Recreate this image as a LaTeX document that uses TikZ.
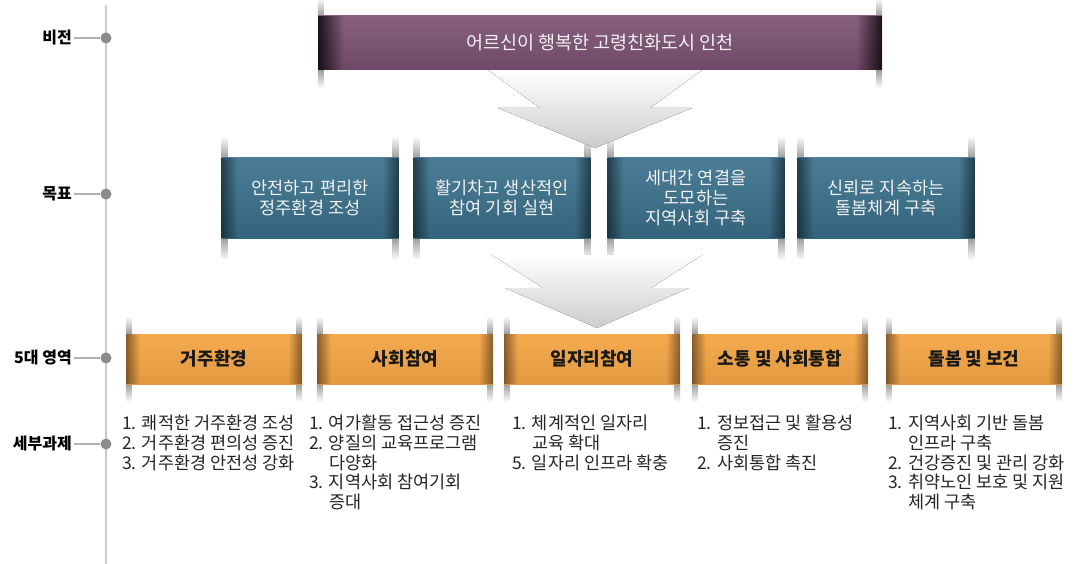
\documentclass[tikz,border=0pt]{standalone}
\usepackage{fontspec}
\setmainfont{Noto Sans CJK KR}
\usetikzlibrary{backgrounds,fadings}

\definecolor{visionpurple}{HTML}{7E5275}
\definecolor{goalblue}{HTML}{3B728D}
\definecolor{areaorange}{HTML}{F5A646}

\begin{document}
\begin{tikzpicture}[
  x=1pt, y=-1pt,
  spine/.style={draw=black!20, line width=2pt},
  tick/.style={draw=black!30, line width=1.3pt},
  leveldot/.style={circle, fill=black!45, inner sep=0pt, minimum size=11pt},
  levellabel/.style={anchor=east, inner sep=2pt, font=\bfseries\fontsize{16}{18}\selectfont},
  visionbar/.style={minimum width=564pt, minimum height=54pt, inner sep=0pt,
    top color=visionpurple!92!white, bottom color=visionpurple!88!black,
    text=white!94!black, font=\fontsize{18.5}{21}\selectfont},
  goalbox/.style={minimum width=177pt, minimum height=80pt, inner sep=0pt, align=center,
    top color=goalblue!92!white, bottom color=goalblue!88!black,
    text=white!95!black, font=\fontsize{17.5}{20}\selectfont},
  areabox/.style={minimum width=176pt, minimum height=50pt, inner sep=0pt,
    top color=areaorange!95!white, bottom color=areaorange!92!black,
    text=black!90, font=\bfseries\fontsize{18}{21}\selectfont},
  tasklist/.style={anchor=north west, align=left, inner sep=0pt,
    text=black!85, font=\fontsize{17.5}{19.7}\selectfont},
  flow/.style={top color=white, bottom color=black!20},
]

\useasboundingbox (0,0) rectangle (1081,564);

% Timeline on the left
\coordinate (spinetop) at (106,5);
\coordinate (spinebot) at (106,564);
\draw[spine] (spinetop) -- (spinebot);

\foreach \y/\name/\lab in {38/vision/비전, 194/goal/목표, 358/area/5대 영역, 444/task/세부과제} {
  \node[leveldot] (\name-dot) at (106,\y) {};
  \node[levellabel] (\name-lab) at (74,\y) {\lab};
  \draw[tick] (\name-lab.east) -- (\name-dot.west);
}

% Big grey flow arrows
\fill[flow] (488,70) -- (702,70) -- (650,108) -- (692,108) -- (595,148)
  -- (498,108) -- (540,108) -- cycle;
\fill[flow] (492,255) -- (702,255) -- (651,288) -- (689,288) -- (597,328)
  -- (505,288) -- (543,288) -- cycle;

% Vision
\node[visionbar] (vision) at (600,43) {어르신이 행복한 고령친화도시 인천};

% Goals
\node[goalbox] (goal1) at (310,198) {안전하고 편리한\\정주환경 조성};
\node[goalbox] (goal2) at (502,198) {활기차고 생산적인\\참여 기회 실현};
\node[goalbox] (goal3) at (696,198) {세대간 연결을\\도모하는\\지역사회 구축};
\node[goalbox] (goal4) at (886,198) {신뢰로 지속하는\\돌봄체계 구축};

% Five areas
\node[areabox] (area1) at (214,359) {거주환경};
\node[areabox] (area2) at (405,359) {사회참여};
\node[areabox] (area3) at (592,359) {일자리참여};
\node[areabox] (area4) at (780,359) {소통 및 사회통합};
\node[areabox] (area5) at (974,359) {돌봄 및 보건};

% Darker box ends
\foreach \b/\w/\o in {vision/26/0.8, goal1/16/0.5, goal2/16/0.5, goal3/16/0.5, goal4/16/0.5,
  area1/14/0.45, area2/14/0.45, area3/14/0.45, area4/14/0.45, area5/14/0.45} {
  \fill[black, opacity=\o, path fading=east] (\b.north west) rectangle ([xshift=\w pt]\b.south west);
  \fill[black, opacity=\o, path fading=west] ([xshift=-\w pt]\b.north east) rectangle (\b.south east);
}

% Detail tasks
\node[tasklist] (task1) at (122,415) {1. 쾌적한 거주환경 조성\\2. 거주환경 편의성 증진\\3. 거주환경 안전성 강화};
\node[tasklist] (task2) at (309,415) {1. 여가활동 접근성 증진\\2. 양질의 교육프로그램\\\phantom{2. }다양화\\3. 지역사회 참여기회\\\phantom{3. }증대};
\node[tasklist] (task3) at (512,415) {1. 체계적인 일자리\\\phantom{1. }교육 확대\\5. 일자리 인프라 확충};
\node[tasklist] (task4) at (697,415) {1. 정보접근 및 활용성\\\phantom{1. }증진\\2. 사회통합 촉진};
\node[tasklist] (task5) at (888,415) {1. 지역사회 기반 돌봄\\\phantom{1. }인프라 구축\\2. 건강증진 및 관리 강화\\3. 취약노인 보호 및 지원\\\phantom{3. }체계 구축};

% Soft shadows above and below the box ends
\begin{scope}[on background layer]
  \fill[white] (0,0) rectangle (1081,564);
  \foreach \b/\h in {vision/18, goal1/22, goal2/22, goal3/22, goal4/22,
    area1/18, area2/18, area3/18, area4/18, area5/18} {
    \shade[top color=white, bottom color=black!38] ([yshift=\h pt]\b.north west) rectangle ([xshift=6pt]\b.north west);
    \shade[top color=white, bottom color=black!38] ([yshift=\h pt,xshift=-6pt]\b.north east) rectangle (\b.north east);
    \shade[top color=black!38, bottom color=white] (\b.south west) rectangle ([yshift=-\h pt,xshift=6pt]\b.south west);
    \shade[top color=black!38, bottom color=white] ([xshift=-6pt]\b.south east) rectangle ([yshift=-\h pt]\b.south east);
  }
\end{scope}

\end{tikzpicture}
\end{document}
